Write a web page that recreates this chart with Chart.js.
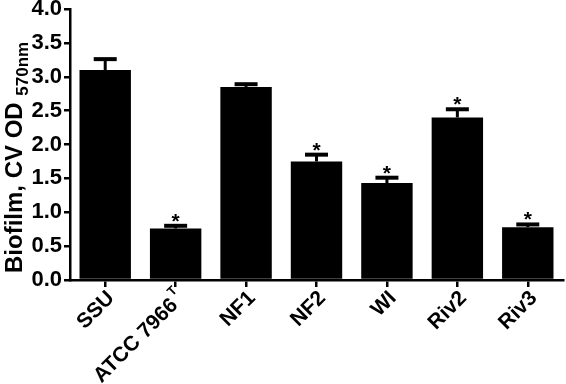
<!DOCTYPE html>
<html>
<head>
<meta charset="utf-8">
<script src="https://cdn.jsdelivr.net/npm/chart.js@4"></script>
<style>
  html, body { margin: 0; padding: 0; background: #fff; }
  #wrap { width: 566px; height: 384px; }
</style>
</head>
<body>
<div id="wrap"><canvas id="chart"></canvas></div>
<script>
const strains = ['SSU', 'ATCC 7966', 'NF1', 'NF2', 'WI', 'Riv2', 'Riv3'];
const superscripts = ['', 'T', '', '', '', '', ''];
const biofilm = [3.10, 0.76, 2.85, 1.75, 1.43, 2.40, 0.78];
const sem = [0.16, 0.04, 0.04, 0.10, 0.08, 0.12, 0.04];
const stars = ['', '*', '', '*', '*', '*', '*'];
const yTicks = [0, 0.5, 1, 1.5, 2, 2.5, 3, 3.5, 4];

const FONT = 'Arial, "Liberation Sans", sans-serif';

// error bars (upper half only), asterisks, x labels and y title
const extras = {
    id: 'extras',
    afterDatasetsDraw(chart) {
        const ctx = chart.ctx;
        const x = chart.scales.x;
        const y = chart.scales.y;
        ctx.save();
        ctx.fillStyle = '#000';
        ctx.strokeStyle = '#000';
        biofilm.forEach((v, i) => {
            const cx = x.getPixelForValue(i);
            const top = y.getPixelForValue(v + sem[i]);
            const base = y.getPixelForValue(v);
            ctx.lineWidth = 3;
            ctx.beginPath();
            ctx.moveTo(cx, base);
            ctx.lineTo(cx, top);
            ctx.stroke();
            ctx.lineWidth = 4;
            ctx.beginPath();
            ctx.moveTo(cx - 11.5, top);
            ctx.lineTo(cx + 11.5, top);
            ctx.stroke();
            if (stars[i]) {
                ctx.font = 'bold 21px ' + FONT;
                ctx.textAlign = 'center';
                ctx.textBaseline = 'alphabetic';
                ctx.fillText(stars[i], cx, top + 2);
            }
        });
        ctx.restore();
    },
    afterDraw(chart) {
        const ctx = chart.ctx;
        const x = chart.scales.x;
        const area = chart.chartArea;
        ctx.save();
        ctx.fillStyle = '#000';
        // rotated category labels
        strains.forEach((s, i) => {
            const cx = x.getPixelForValue(i);
            ctx.save();
            ctx.translate(cx + 6, area.bottom + 15);
            ctx.rotate(-Math.PI / 4);
            ctx.textAlign = 'right';
            ctx.textBaseline = 'middle';
            let end = 0;
            if (superscripts[i]) {
                ctx.font = 'bold 13px ' + FONT;
                ctx.fillText(superscripts[i], 0, -9);
                end = -ctx.measureText(superscripts[i]).width - 2;
            }
            ctx.font = 'bold 21px ' + FONT;
            ctx.fillText(s, end, 0);
            ctx.restore();
        });
        // y axis title with subscript
        ctx.save();
        ctx.translate(22, area.bottom - 7);
        ctx.rotate(-Math.PI / 2);
        ctx.textAlign = 'left';
        ctx.textBaseline = 'alphabetic';
        ctx.font = 'bold 24px ' + FONT;
        const main = 'Biofilm, CV OD ';
        ctx.fillText(main, 0, 0);
        const w = ctx.measureText(main).width;
        ctx.font = 'bold 17px ' + FONT;
        ctx.fillText('570nm', w, 6);
        ctx.restore();
        ctx.restore();
    }
};

new Chart(document.getElementById('chart'), {
    type: 'bar',
    data: {
        labels: strains,
        datasets: [{
            data: biofilm,
            backgroundColor: '#000',
            borderWidth: 0,
            barPercentage: 0.73,
            categoryPercentage: 1.0
        }]
    },
    options: {
        responsive: true,
        maintainAspectRatio: false,
        animation: false,
        layout: { padding: { top: 9, right: 3, left: 0, bottom: 0 } },
        plugins: {
            legend: { display: false },
            tooltip: { enabled: false }
        },
        scales: {
            x: {
                grid: {
                    offset: false,
                    drawOnChartArea: false,
                    drawTicks: true,
                    tickLength: 7,
                    color: '#000',
                    lineWidth: 2.5
                },
                border: { color: '#000', width: 2.5 },
                ticks: { display: false },
                afterFit(scale) { scale.height = 104; }
            },
            y: {
                min: 0,
                max: 4,
                afterBuildTicks(scale) {
                    scale.ticks = yTicks.map(v => ({ value: v }));
                },
                grid: {
                    drawOnChartArea: false,
                    drawTicks: true,
                    tickLength: 6,
                    color: '#000',
                    lineWidth: 2.5
                },
                border: { color: '#000', width: 2.5 },
                ticks: {
                    color: '#000',
                    padding: 2,
                    font: { family: FONT, size: 22, weight: 'bold' },
                    callback: v => v.toFixed(1)
                },
                afterFit(scale) {
                    scale.width = 70;
                    scale.paddingTop = 0;
                    scale.paddingBottom = 0;
                }
            }
        }
    },
    plugins: [extras]
});
</script>
</body>
</html>
